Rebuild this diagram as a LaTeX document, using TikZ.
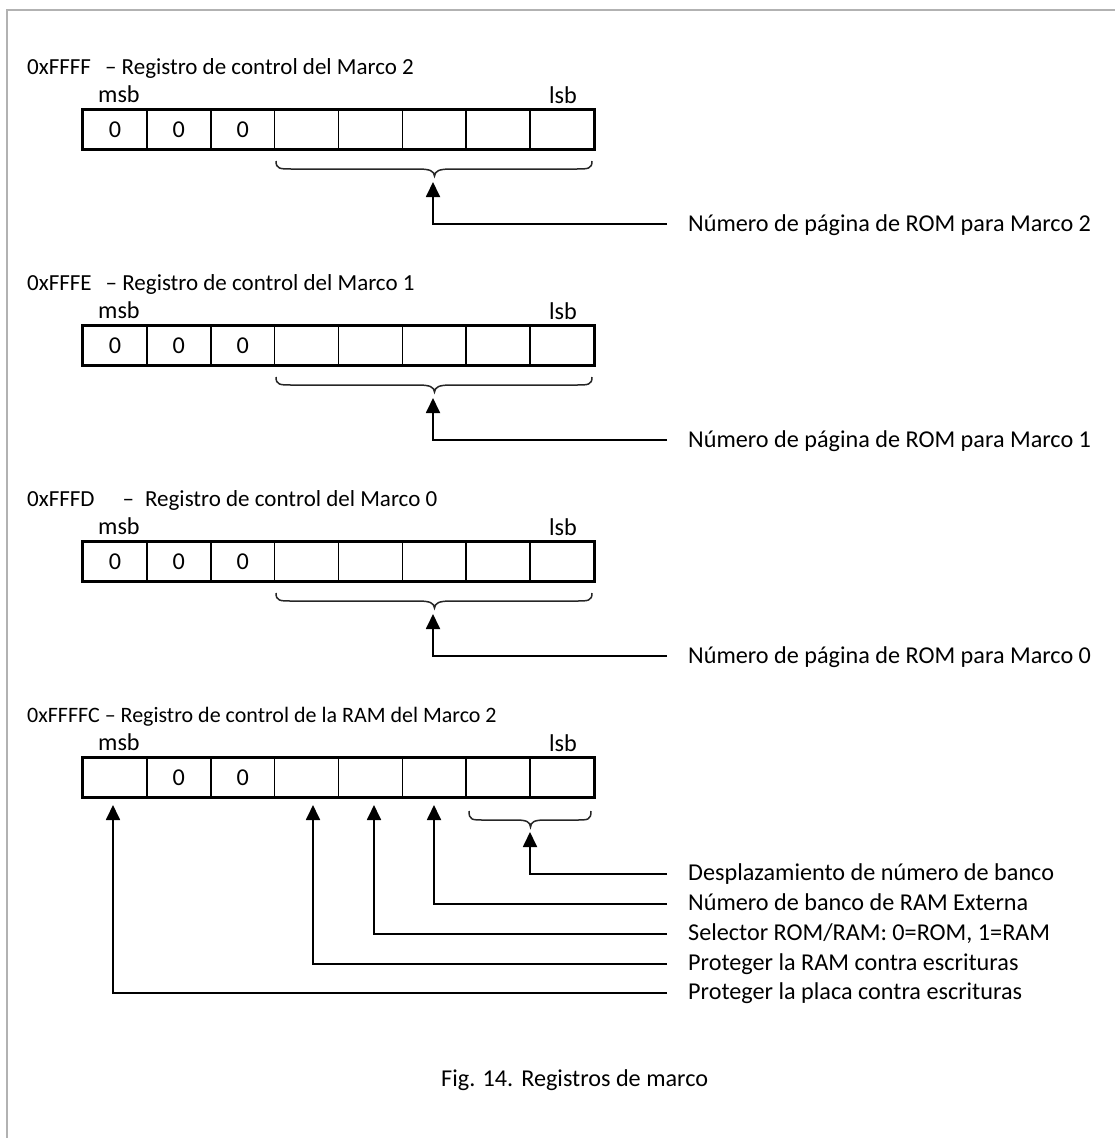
\documentclass[tikz,border=0pt]{standalone}
\usepackage{fontspec}
\setmainfont{Carlito}
\usetikzlibrary{arrows.meta}
\begin{document}
\begin{tikzpicture}[x=1pt,y=-1pt,
  every node/.style={font=\fontsize{24.2}{29}\selectfont, inner sep=0pt},
  cell/.style={draw, line width=1.6pt, minimum width=63.875pt, minimum height=39pt},
  outer/.style={line width=2.2pt},
  conn/.style={line width=1.8pt, -{Triangle[length=15pt,width=14pt]}},
  bracepath/.style={line width=1.5pt, black!85},
  lbl/.style={anchor=base west},
  ttl/.style={anchor=base west, font=\fontsize{23}{28}\selectfont},
  ttlb/.style={anchor=base west, font=\fontsize{22}{27}\selectfont},
  frame/.style={draw=black!30, line width=2pt}]

\useasboundingbox (0,0) rectangle (1115,1138);
\draw[frame] (6.5,1138) -- (6.5,10) -- (1115,10);

% ---------- three ROM page registers ----------
\foreach \k/\addr/\mk in {0/{0xFFFF\hspace{14pt}–~Registro de control del Marco 2}/2,
                          1/{0xFFFE\hspace{14pt}–~Registro de control del Marco 1}/1,
                          2/{0xFFFD\hspace{28pt}–\hspace{11pt}Registro de control del Marco 0}/0}{
  \begin{scope}[shift={(0,{216*\k})}]
    \node[ttl] (t\k) at (27,74) {\addr};
    \node[lbl] (m\k) at (98,102) {msb};
    \node[lbl] (l\k) at (549,103) {lsb};
    \foreach \i in {1,...,8}{
      \node[cell] (r\k c\i) at ({83+63.875*(\i-0.5)},129.5) {\ifnum\i<4 0\fi};
    }
    \draw[outer] (r\k c1.north west) rectangle (r\k c8.south east);
    \draw[bracepath] (276,161) .. controls (276,169) and (280,169) .. (292,169)
      -- (418,169) .. controls (430,169) and (434,171) .. (434.5,176)
      .. controls (435,171) and (439,169) .. (451,169)
      -- (576,169) .. controls (588,169) and (592,169) .. (592,161);
    \coordinate (tip\k) at (433,182);
    \coordinate (cor\k) at (433,224);
    \coordinate (end\k) at (667,224);
    \node[lbl] (n\k) at (688,231) {Número de página de ROM para Marco \mk};
    \draw[conn] (end\k) -- (cor\k) -- (tip\k);
  \end{scope}
}

% ---------- RAM control register ----------
\node[ttlb] (t3) at (27,722) {0xFFFFC – Registro de control de la RAM del Marco 2};
\node[lbl] (m3) at (98,750) {msb};
\node[lbl] (l3) at (549,751) {lsb};
\foreach \i in {1,...,8}{
  \node[cell] (r3c\i) at ({83+63.875*(\i-0.5)},777.5) {\ifnum\i>1 \ifnum\i<4 0\fi\fi};
}
\draw[outer] (r3c1.north west) rectangle (r3c8.south east);
\draw[bracepath] (469,811) .. controls (469,820) and (472,820) .. (484,820)
  -- (516,820) .. controls (527,820) and (530,822) .. (530.5,827)
  .. controls (531,822) and (534,820) .. (545,820)
  -- (576,820) .. controls (588,820) and (591,820) .. (591,811);

\coordinate (ta) at (530,832);  \coordinate (ca) at (530,874);  \coordinate (ea) at (667,874);
\coordinate (tb) at (434,805);  \coordinate (cb) at (434,904);  \coordinate (eb) at (667,904);
\coordinate (tc) at (374,805);  \coordinate (cc) at (374,934);  \coordinate (ec) at (667,934);
\coordinate (td) at (313,805);  \coordinate (cd) at (313,964);  \coordinate (ed) at (667,964);
\coordinate (te) at (113,805);  \coordinate (ce) at (113,993);  \coordinate (ee) at (667,993);

\node[lbl] (la) at (688,880) {Desplazamiento de número de banco};
\node[lbl] (lb) at (688,910) {Número de banco de RAM Externa};
\node[lbl] (lc) at (688,940) {Selector ROM/RAM: 0=ROM, 1=RAM};
\node[lbl] (ld) at (688,970) {Proteger la RAM contra escrituras};
\node[lbl] (le) at (688,999) {Proteger la placa contra escrituras};

\draw[conn] (ea) -- (ca) -- (ta);
\draw[conn] (eb) -- (cb) -- (tb);
\draw[conn] (ec) -- (cc) -- (tc);
\draw[conn] (ed) -- (cd) -- (td);
\draw[conn] (ee) -- (ce) -- (te);

% ---------- caption ----------
\node[lbl] (cap) at (441,1086) {Fig. 14.\hspace{8pt}Registros de marco};
\end{tikzpicture}
\end{document}
